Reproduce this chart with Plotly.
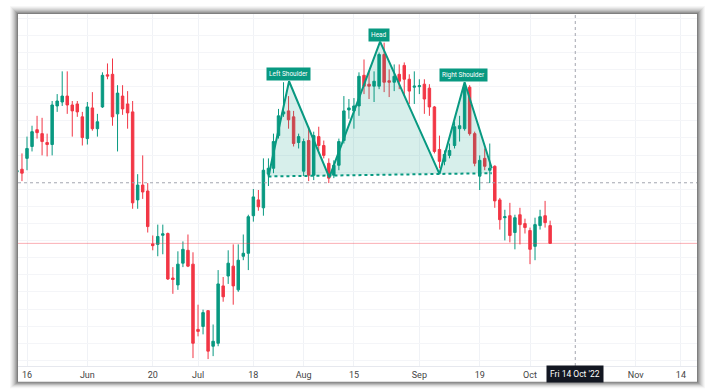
import plotly.graph_objects as go

# ---------------- data (price units) ----------------
day_index = list(range(-2, 105))  # trading-day index, 0 = Mon 16 May 2022

opens = [226.5, 229, 240, 252, 269, 265, 256, 254, 293, 297, 303, 294, 295, 282, 260, 291, 270, 292, 324.5, 325,
         285, 303, 295, 287, 198, 213, 207, 153.5, 153, 162.2, 164, 119, 112, 134, 147, 133, 67, 70, 86, 50,
         53, 111, 121, 131, 107, 141, 144, 182, 198, 190, 224, 230, 263, 285, 288, 282, 256, 227, 258, 223,
         262, 253, 235, 223, 233, 258, 289, 288, 293, 324, 315, 313, 313, 345, 318.5, 317, 325, 334, 320, 312,
         312.5, 315, 311, 292, 249, 237, 243, 253, 270, 270, 312, 265, 222, 240, 228, 232, 198, 180, 182, 165,
         183, 174, 167, 151, 172, 182, 172]
highs = [230, 245, 262, 273, 283, 281, 265, 298, 305, 328, 328, 298, 298, 287, 297, 307, 285, 327, 336, 341,
         314, 314, 308, 298, 224, 243, 215, 162, 173, 173, 165, 130, 146, 156, 163, 145, 92, 87, 86, 72,
         127, 120, 147, 153, 153, 163, 183, 209, 208, 240, 240, 265, 290, 317, 303, 288, 265, 260, 272, 267,
         272, 258, 240, 238, 260, 303, 300, 301, 327, 340, 328, 328, 347, 357, 330, 335, 335, 337, 325, 328,
         320, 320, 315, 293, 263, 248, 255, 277, 283, 317, 314, 267, 243, 250, 255, 233, 200, 188, 195, 183,
         190, 179, 170, 180, 188, 197, 177]
lows = [224, 217, 228, 247, 260, 243, 242, 243, 287, 293, 285, 262, 282, 253, 254, 268, 262, 291, 320, 273,
        247, 284, 270, 189, 189, 199, 165, 147, 141, 143, 117, 103, 107, 130, 130, 38, 60, 62, 37, 40,
        50, 95, 113, 92, 105, 137, 127, 176, 187, 182, 212, 225, 260, 282, 270, 252, 250, 222, 217, 218,
        248, 240, 215, 220, 228, 255, 280, 270, 283, 305, 300, 297, 310, 307, 302, 308, 310, 303, 295, 295,
        305, 285, 283, 245, 230, 233, 240, 250, 257, 268, 263, 232, 208, 228, 215, 190, 168, 157, 155, 148,
        153, 164, 133, 137, 168, 170, 154]
closes = [227.5, 225, 250, 267, 266, 257, 254, 294, 298, 303, 294, 288, 287, 261, 292, 270, 277, 324, 323.2, 282,
          306, 290, 286, 195, 213, 206, 171, 151.7, 161, 163.7, 118, 117.5, 133, 148, 131, 53, 65, 84, 45, 55,
          113, 100, 134, 111, 137, 144, 181, 201, 191, 228, 230, 257, 283, 287, 279, 255, 262, 257, 223, 263,
          253, 243, 220, 233, 257, 288, 291, 293, 323, 313, 313, 318, 345, 317, 317, 323, 318, 320, 308, 313,
          313.5, 300, 292, 247, 237, 244, 248, 272, 273, 312, 265, 235, 238, 232, 230, 197, 178, 181, 162, 180,
          173, 170, 148, 173, 181, 175, 154]

tick_positions = [0, 12, 25, 34, 45, 55, 65, 78, 90, 100, 121, 130]
tick_labels = ["16", "Jun", "20", "Jul", "18", "Aug", "15", "Sep", "19", "Oct", "Nov", "14"]

pattern_x = [48, 52.1, 60.1, 70.2, 82.0, 87.0, 92.4]
pattern_y = [221.7, 318, 220.7, 358, 224.3, 317, 230]
neckline_x = [48, 92.4]
neckline_y = [221.7, 225]

label_texts = ["Left Shoulder", "Head", "Right Shoulder"]
label_x = [51.9, 70.0, 86.8]
label_y = [325, 365, 324]

crosshair_day = 109
crosshair_price = 215.3
crosshair_text = "Fri 14 Oct '22"

# ---------------- style ----------------
GREEN = "#089981"
RED = "#f23645"
TEAL = "#089981"
W, H = 720, 392
L, R, T, B = 18, 23, 14, 22
PW, PH = W - L - R, H - T - B


def px(xp):
    return (xp - L) / PW


def py(yp):
    return (H - B - yp) / PH


fig = go.Figure()

# pattern fill
fig.add_trace(go.Scatter(
    x=pattern_x + neckline_x[::-1],
    y=pattern_y + neckline_y[::-1],
    mode="lines", fill="toself", fillcolor="rgba(8,153,129,0.16)",
    line=dict(width=0, color="rgba(0,0,0,0)"), hoverinfo="skip", showlegend=False))

fig.add_trace(go.Candlestick(
    x=day_index, open=opens, high=highs, low=lows, close=closes,
    increasing=dict(line=dict(color=GREEN, width=1), fillcolor=GREEN),
    decreasing=dict(line=dict(color=RED, width=1), fillcolor=RED),
    whiskerwidth=0, showlegend=False, hoverinfo="skip"))

# neckline
fig.add_trace(go.Scatter(x=neckline_x, y=neckline_y, mode="lines",
                         line=dict(color=TEAL, width=2, dash="dot"),
                         hoverinfo="skip", showlegend=False))
# zigzag
fig.add_trace(go.Scatter(x=pattern_x, y=pattern_y, mode="lines",
                         line=dict(color=TEAL, width=2),
                         hoverinfo="skip", showlegend=False))

shapes = []
# drop shadow of the framed screenshot
fx0, fy0, fx1, fy1 = 18, 14, 697, 386
for off, a in [(8, 0.03), (7, 0.04), (6, 0.05), (5, 0.06), (4, 0.08), (3, 0.1), (2, 0.12), (1, 0.16)]:
    shapes.append(dict(type="rect", xref="paper", yref="paper", layer="below",
                       x0=px(fx0 - off), x1=px(fx1 + off), y0=py(fy1 + off * 0.8), y1=py(fy0 - off),
                       fillcolor=f"rgba(0,0,0,{a})", line=dict(width=0)))
shapes.append(dict(type="rect", xref="paper", yref="paper", layer="below",
                   x0=px(fx0), x1=px(fx1), y0=py(fy1), y1=py(fy0),
                   fillcolor="white", line=dict(width=0)))
# last price line
shapes.append(dict(type="line", xref="paper", yref="y", x0=0, x1=1, y0=closes[-1], y1=closes[-1],
                   line=dict(color="rgba(242,54,69,0.4)", width=1)))
# crosshair
shapes.append(dict(type="line", xref="paper", yref="y", x0=0, x1=1, y0=crosshair_price, y1=crosshair_price,
                   line=dict(color="#a3a6af", width=1, dash="3px,3px")))
shapes.append(dict(type="line", xref="x", yref="paper", x0=crosshair_day, x1=crosshair_day, y0=0, y1=1,
                   line=dict(color="#a3a6af", width=1, dash="3px,3px")))

annotations = []
for t, xx, yy in zip(label_texts, label_x, label_y):
    annotations.append(dict(x=xx, y=yy, xref="x", yref="y", text=t, showarrow=False,
                            font=dict(family="Roboto", size=6.5, color="white"),
                            bgcolor=TEAL, borderpad=2, xanchor="center", yanchor="middle"))
annotations.append(dict(x=crosshair_day, y=py(378), xref="x", yref="paper", text=crosshair_text,
                        showarrow=False, font=dict(family="Roboto", size=8.5, color="white"),
                        bgcolor="#131722", borderpad=3, xanchor="center", yanchor="middle"))

x_min = (fx0 - 27) / 5.03
x_max = (fx1 - 27) / 5.03

fig.update_layout(
    width=W, height=H,
    margin=dict(l=L, r=R, t=T, b=B, pad=0),
    paper_bgcolor="white", plot_bgcolor="white",
    shapes=shapes, annotations=annotations,
    hovermode=False,
    xaxis=dict(range=[x_min, x_max], tickvals=tick_positions, ticktext=tick_labels,
               showgrid=True, gridcolor="#f0f2f6", gridwidth=1, zeroline=False,
               showline=True, linecolor="#e6e8ee", linewidth=1,
               rangeslider=dict(visible=False), ticks="",
               tickfont=dict(family="Roboto", size=9, color="#444")),
    yaxis=dict(range=[30, 386], tick0=53, dtick=17.3, showticklabels=False,
               showgrid=True, gridcolor="#f4f5f8", gridwidth=1, zeroline=False, showline=False),
)

fig.write_html("out.html", config={"displayModeBar": False},
               post_script="document.body.style.margin='0';document.body.style.overflow='hidden';")
